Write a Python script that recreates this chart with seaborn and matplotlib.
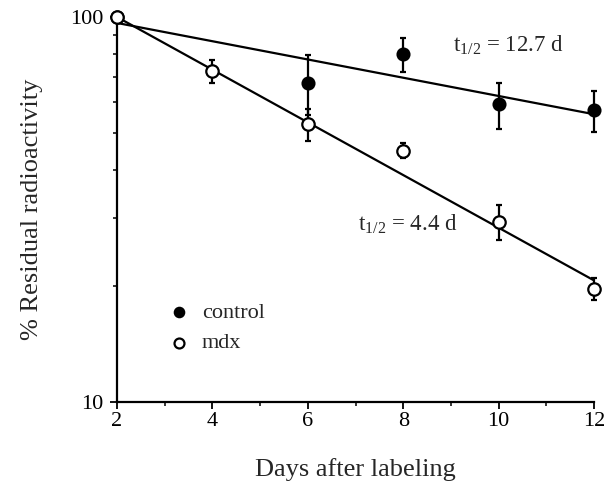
import numpy as np
import pandas as pd
import matplotlib
matplotlib.use("Agg")
import matplotlib.pyplot as plt
from matplotlib.ticker import LogLocator, FixedLocator, NullFormatter, FixedFormatter
import seaborn as sns

# ---- data ----
days_control = [2, 6, 8, 10, 12]
control_vals = [100, 67.5, 80.0, 59.3, 57.3]
control_err = [0, 12.0, 8.0, 8.0, 7.0]

days_mdx = [2, 4, 6, 8, 10, 12]
mdx_vals = [100, 72.4, 52.6, 45.0, 29.4, 19.7]
mdx_err = [0, 5.0, 5.0, 2.0, 3.0, 1.3]

# fitted exponential decay: start value at day 2 and half-life (days)
control_fit_start = 96.5
control_half_life = 12.7
mdx_fit_start = 100.0
mdx_half_life = 4.4
fit_days = [2, 12]

x_ticks = [2, 4, 6, 8, 10, 12]
y_ticks = [10, 100]
# ---------------------------------------

sns.set_style("ticks")
plt.rcParams['font.family'] = ['Liberation Serif', 'DejaVu Serif']
plt.rcParams['mathtext.fontset'] = 'custom'
plt.rcParams['mathtext.rm'] = 'Liberation Serif'
plt.rcParams['mathtext.it'] = 'Liberation Serif'

fig = plt.figure(figsize=(6.14, 4.82), dpi=100)
ax = fig.add_axes([0.1906, 0.166, 0.7768, 0.7987])

fd = np.array(fit_days, dtype=float)
fit_df = pd.DataFrame({
    "day": np.concatenate([fd, fd]),
    "val": np.concatenate([
        control_fit_start * 0.5 ** ((fd - fd[0]) / control_half_life),
        mdx_fit_start * 0.5 ** ((fd - fd[0]) / mdx_half_life),
    ]),
    "grp": ["control"] * len(fd) + ["mdx"] * len(fd),
})
sns.lineplot(data=fit_df, x="day", y="val", units="grp", estimator=None,
             color="black", lw=1.6, ax=ax, legend=False, zorder=2)

for d, v, e in [(days_control, control_vals, control_err),
                (days_mdx, mdx_vals, mdx_err)]:
    eb = ax.errorbar(d, v, yerr=e, fmt="none", ecolor="black", elinewidth=1.6,
                     capsize=2.5, capthick=1.6, zorder=3)
    for art in eb.get_children():
        art.set_clip_on(False)

cdf = pd.DataFrame({"day": days_control, "val": control_vals})
mdf = pd.DataFrame({"day": days_mdx, "val": mdx_vals})
sns.scatterplot(data=cdf, x="day", y="val", ax=ax, marker="o", s=80,
                color="black", edgecolor="black", linewidth=1.2, zorder=4,
                label="control", clip_on=False)
sns.scatterplot(data=mdf, x="day", y="val", ax=ax, marker="o", s=80,
                facecolor="white", edgecolor="black", linewidth=1.6, zorder=5,
                label="mdx", clip_on=False)

ax.set_yscale("log")
ax.set_xlim(2, 12)
ax.set_ylim(10, 100)
ax.xaxis.set_major_locator(FixedLocator(x_ticks))
ax.xaxis.set_minor_locator(FixedLocator([3, 5, 7, 9, 11]))
ax.yaxis.set_major_locator(FixedLocator(y_ticks))
ax.yaxis.set_major_formatter(FixedFormatter([str(v) for v in y_ticks]))
ax.yaxis.set_minor_locator(LogLocator(base=10, subs=np.arange(2, 10)))
ax.yaxis.set_minor_formatter(NullFormatter())

for s in ["top", "right"]:
    ax.spines[s].set_visible(False)
for s in ["left", "bottom"]:
    ax.spines[s].set_linewidth(1.6)
    ax.spines[s].set_color("black")

ax.tick_params(axis="both", which="major", direction="out", length=5,
               width=1.3, labelsize=16, colors="black", pad=2)
ax.tick_params(axis="y", which="major", pad=5)
ax.tick_params(axis="both", which="minor", direction="out", length=3, width=1.3)

ax.set_xlabel("Days after labeling", fontsize=19, labelpad=20)
ax.set_ylabel("% Residual radioactivity", fontsize=19, labelpad=19)

ax.text(9.05, 84.3, r"t$_{1/2}$ = 12.7 d", fontsize=16.5, ha="left", va="center")
ax.text(7.05, 29.0, r"t$_{1/2}$ = 4.4 d", fontsize=16.5, ha="left", va="center")

leg = ax.legend(loc="lower left", bbox_to_anchor=(0.088, 0.103), frameon=False,
                fontsize=16, handletextpad=0.53, labelspacing=0.45,
                borderaxespad=0, handlelength=1.0, markerscale=0.8)

fig.savefig("out.png", dpi=100)
